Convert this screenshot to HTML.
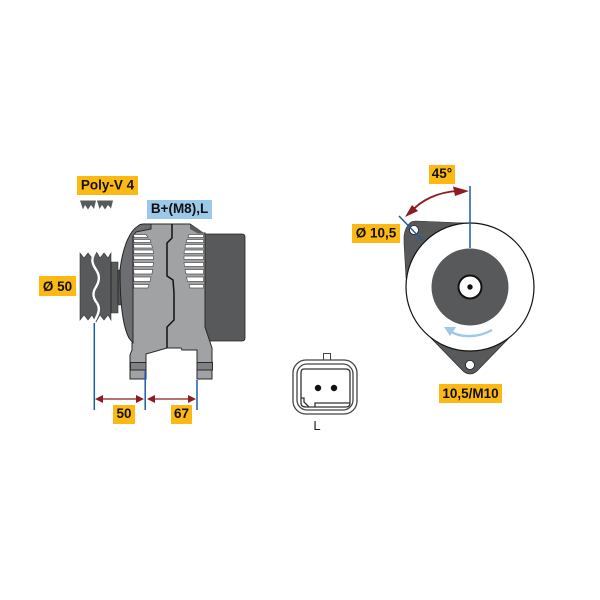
<!DOCTYPE html>
<html><head><meta charset="utf-8"><style>
html,body{margin:0;padding:0;background:#fff}
svg{display:block}
text{font-family:"Liberation Sans",sans-serif}
.b{font-weight:700;font-size:13.5px;fill:#111;text-anchor:middle}
</style></head><body>
<svg width="600" height="600" viewBox="0 0 600 600" xmlns="http://www.w3.org/2000/svg">
<rect width="600" height="600" fill="#fff"/>
<!-- labels -->
<rect x="77" y="176" width="61" height="19" fill="#fdb913"/>
<text class="b" x="107.500" y="189.500">Poly-V 4</text>
<rect x="147" y="200" width="65" height="19" fill="#9cc9ea"/>
<text class="b" x="179.500" y="213">B+(M8),L</text>
<rect x="39" y="276" width="37" height="20" fill="#fdb913"/>
<text class="b" x="57.500" y="291">Ø 50</text>
<rect x="113" y="405" width="22" height="19" fill="#fdb913"/>
<text class="b" x="124" y="418">50</text>
<rect x="171" y="405" width="21" height="19" fill="#fdb913"/>
<text class="b" x="181.500" y="418">67</text>
<rect x="429" y="165" width="26" height="19" fill="#fdb913"/>
<text class="b" x="442" y="178">45°</text>
<rect x="352" y="224" width="48" height="19" fill="#fdb913"/>
<text class="b" x="376" y="237.500">Ø 10,5</text>
<rect x="439" y="384" width="63" height="19" fill="#fdb913"/>
<text class="b" x="470.500" y="398">10,5/M10</text>
<!-- poly-v icon -->
<path d="M80 200.500H96L94 209L91 205L88 209.500L85 205L83 209.500Z" fill="#58595b"/>
<path d="M97 200.500H113L111 208.500L108 205L105 209.500L102 205L99.500 209Z" fill="#58595b"/>
<!-- back cover -->
<path d="M205 234H242Q245 234 245 237V338Q245 341 242 341H205Z" fill="#58595b" stroke="#222" stroke-width=".8"/>
<!-- pulley -->
<path d="M80 253L84 258L88 253L92 258L96 251L100 258L104 253L108 258L111 253V262H118V270H121V305H118V313H111V320L108 315L104 320L100 315L96 322L92 315L88 320L84 315L80 320Z" fill="#58595b" stroke="#333" stroke-width=".6"/>
<path d="M111 262V313M118 270V305" stroke="#2a2a2a" stroke-width="1" fill="none"/>
<path d="M98 248C90 258 92 263 95 268C100 275 100 280 96 287C92 293 93 298 97 303C101 309 98 315 93 324" fill="none" stroke="#fff" stroke-width="2.400"/>
<!-- front bearing shield -->
<path d="M120 270C122 252 128 232 138 226Q140 224 144 224H152V230L136 233L133 238V343L129 338C122 325 120 300 120 270Z" fill="#6d6e71" stroke="#222" stroke-width="1"/>
<!-- main body -->
<path d="M133 236L136 232L151 229V224H190L196 228L203 233H205V327L212 348V379H197V350H182L181 348H167L146 354V379H130V355L132 350V343H133Z" fill="#a0a2a4" stroke="#2a2a2a" stroke-width="1"/>
<path d="M190 224.500L197 228L204 233.500H198L190 229Z" fill="#58595b"/>
<path d="M130.500 362.500H146V370H130.500ZM197 362.500H212.500V370H197Z" fill="#808285" stroke="#2a2a2a" stroke-width="1"/>
<path d="M172 224V238L167 243V276L173 280L174 293V320L167 327V348" fill="none" stroke="#111" stroke-width="1.500"/>
<!-- slots left -->
<g fill="#fff" stroke="#555" stroke-width=".7">
<path d="M133.500 234.500H146L148 237.500H134ZM133.500 239.500H150L151 242.500H134ZM133.500 244.500H151.500L152.500 248H134ZM133.500 250H153L153.500 253.500H134ZM133.500 256H153.500V259.500H134ZM133.500 262.500H153.500L153 266.500H134ZM133.500 269.500H152.500L152 274H134ZM133.500 277H151L150 281.500H134ZM133.500 284.500H149L148 288H134Z"/>
<path d="M189 234.500H203.500V237.500H188ZM187 239.500H203.500V242.500H186ZM185.500 244.500H203.500V248H185ZM184.500 250H203.500V253.500H184ZM184 256H203.500V259.500H184ZM184 262.500H203.500V266.500H184.500ZM185 269.500H203.500V274H186ZM186.500 277H203.500V281.500H187.500ZM189 284.500H203.500V288H190Z"/>
</g>
<!-- dimension lines left -->
<path d="M94.300 323V410M145.200 370V410M197 380V410" stroke="#1c5da8" stroke-width="1.500" fill="none"/>
<path d="M98 399H142M149 399H193" stroke="#8a1c22" stroke-width="1.300"/>
<path d="M95 399L103 395V403ZM144 399L136 395V403ZM147 399L155 395V403ZM196 399L188 395V403Z" fill="#8a1c22"/>
<!-- connector -->
<rect x="323.500" y="353.500" width="7" height="7" fill="#fff" stroke="#444"/>
<rect x="293" y="360" width="64" height="54" rx="13" fill="#fff" stroke="#444" stroke-width="1.300"/>
<rect x="297" y="364" width="56" height="46" rx="10" fill="#fff" stroke="#444" stroke-width="1.300"/>
<path d="M304 369H346Q350 369 350 373V403Q350 407 346 407H306Q301 407 301 403V373Q301 369 304 369Z" fill="none" stroke="#333" stroke-width="1.300"/>
<path d="M301 398H304V402L309 407M315 407V403H350" fill="none" stroke="#333" stroke-width="1.300"/>
<circle cx="318" cy="388" r="3.200" fill="#111"/>
<circle cx="334" cy="388" r="3.200" fill="#111"/>
<text x="317" y="430" font-size="13" text-anchor="middle" fill="#222">L</text>
<!-- right view flange -->
<path d="M416 221L465 223L470 223L440 290L406 278L404 243V236Q405 227 411 222Q413 221 416 221Z" fill="#58595b" stroke="#333" stroke-width=".6"/>
<path d="M428 335L463 371Q470 377 477 371L512 335L470 320Z" fill="#58595b" stroke="#222" stroke-width=".6"/>
<circle cx="470" cy="287" r="64" fill="#fff" stroke="#111" stroke-width="1.200"/>
<circle cx="470" cy="287" r="38.500" fill="#58595b"/>
<circle cx="470" cy="287" r="11.500" fill="#fff" stroke="#111" stroke-width="2"/>
<circle cx="470" cy="287" r="2.700" fill="#111"/>
<circle cx="414" cy="230" r="4.500" fill="#fff" stroke="#222" stroke-width=".8"/>
<circle cx="470" cy="365" r="4.500" fill="#fff" stroke="#222" stroke-width=".8"/>
<!-- right blue lines -->
<path d="M470 186V248M399 216L423 241" stroke="#1c5da8" stroke-width="1.500" fill="none"/>
<!-- arc -->
<path d="M458 191C438 192 421 200 411 212" fill="none" stroke="#8a1c22" stroke-width="1.800"/>
<path d="M469 191L453 186.500L455 196ZM405 217L418 211L412 205Z" fill="#8a1c22"/>
<!-- rotation arrow -->
<path d="M492 330C478 338 460 338 450 331" fill="none" stroke="#9cc9ea" stroke-width="2.400"/>
<path d="M444 327L456 327L450 336Z" fill="#9cc9ea"/>
</svg>
</body></html>
